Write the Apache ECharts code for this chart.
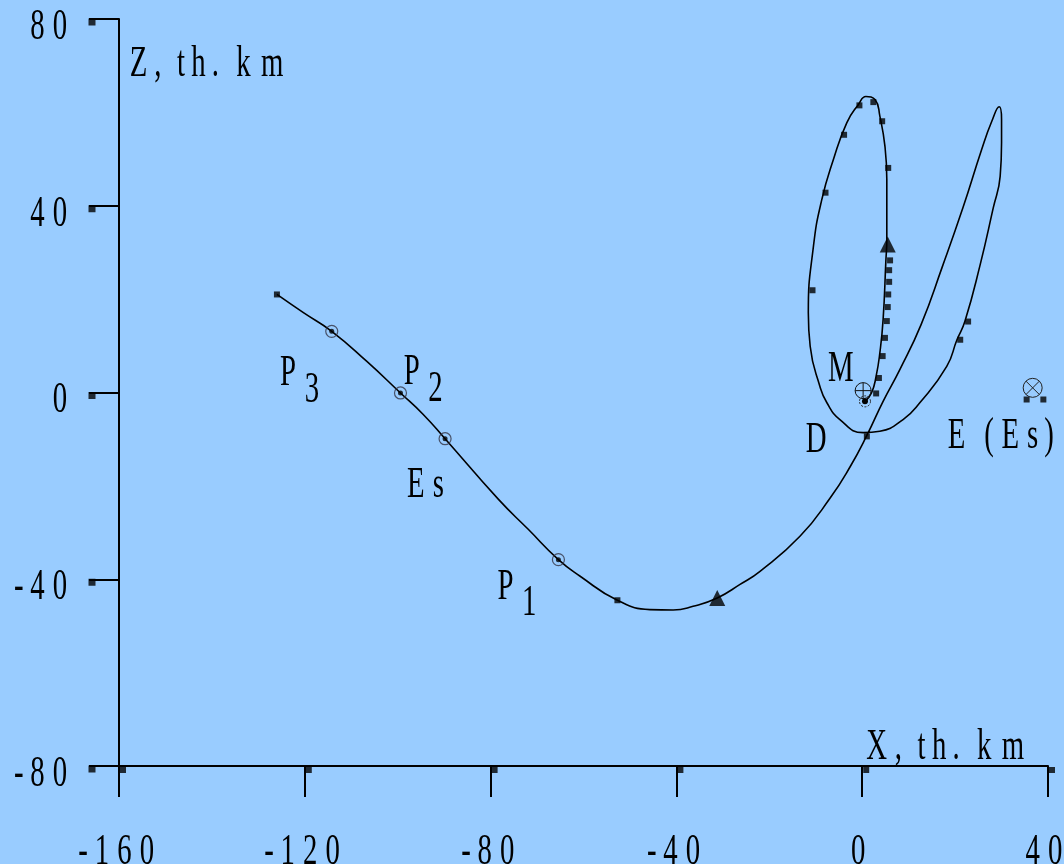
<!DOCTYPE html>
<html>
<head>
<meta charset="utf-8">
<script src="https://cdn.jsdelivr.net/npm/echarts@6/dist/echarts.min.js"></script>
<style>
  html, body { margin: 0; padding: 0; background: #99ccff; }
  #chart { width: 1064px; height: 864px; }
</style>
</head>
<body>
<div id="chart"></div>
<script>
// Axis ticks (thousand km)
const xTicks = [-160, -120, -80, -40, 0, 40];
const zTicks = [-80, -40, 0, 40, 80];

// Spacecraft path in the X–Z plane, from the far-left start to the arrival near M
const trajectory = [
  [-126.0, 21.0], [-120.3, 17.1], [-114.2, 13.1], [-106.7, 6.7], [-99.4, -0.1],
  [-94.5, -4.7], [-89.8, -9.9], [-78.3, -22.9], [-71.9, -29.3], [-65.4, -35.8],
  [-60.8, -39.3], [-52.7, -44.5], [-45.7, -46.5], [-40.7, -46.6], [-36.4, -45.8],
  [-31.2, -44.0], [-26.3, -41.1], [-22.0, -38.3], [-13.4, -30.8], [-6.9, -22.6],
  [-2.6, -15.9], [1.0, -9.2], [4.5, -1.9], [8.1, 4.9], [12.7, 14.6],
  [17.2, 26.8], [21.7, 39.6], [25.7, 52.0], [27.9, 58.1], [29.5, 61.2],
  [30.0, 58.5], [30.0, 53.5], [29.7, 46.3], [28.2, 39.5], [25.4, 27.4],
  [22.1, 15.2], [20.4, 11.3], [18.2, 5.6], [12.4, -2.2], [8.8, -5.8],
  [3.8, -8.3], [0.2, -8.6], [-4.8, -5.8], [-7.6, -2.2], [-9.1, 1.3],
  [-11.2, 9.9], [-11.6, 17.1], [-10.5, 31.3], [-8.7, 41.3], [-6.2, 49.9],
  [-3.3, 57.8], [-0.8, 61.7], [0.8, 63.4], [2.8, 62.7], [3.8, 59.2],
  [4.9, 52.7], [5.3, 45.6], [5.3, 32.8], [5.1, 28.3], [4.5, 15.6],
  [3.8, 8.5], [3.0, 3.5], [2.0, -0.1], [0.6, -1.9]
];

// Time marks along the path
const timeMarks = [
  [-126.0, 21.0], [-52.7, -44.5], [1.0, -9.4],
  [22.8, 15.2], [21.1, 11.3],
  [-10.7, 21.9], [-7.9, 42.8], [-3.9, 55.2], [-0.6, 61.5], [2.4, 62.2],
  [4.3, 58.1], [5.6, 48.1],
  [6.0, 28.3], [5.8, 26.2], [5.8, 23.7], [5.6, 21.0], [5.5, 18.3],
  [5.3, 15.3], [4.9, 11.7], [4.4, 7.8], [3.6, 3.1], [3.0, -0.2]
];

// Circled points P3, P2, Es, P1
const circledPoints = [[-114.2, 13.1], [-99.4, -0.1], [-89.8, -9.9], [-65.4, -35.8]];

// Triangle marks
const triangleMarks = [[-31.2, -44.0], [5.5, 31.7]];

// Moon, arrival point, Earth (Es) and its marks
const moonPos = [[0.2, 0.4]];
const arrivalPos = [[0.6, -1.9]];
const earthPos = [[36.7, 1.0]];
const earthMarks = [[35.4, -1.5], [39.0, -1.5]];

// Text annotations: pieces of text, anchored at the first glyph (data coords)
const notes = [
  { at: [-155.8, 70.4], pieces: [{ t: 'Z, th. km' }] },
  { at: [3.1, -76.0], pieces: [{ t: 'X, th. km' }] },
  { at: [-123.6, 4.1], pieces: [{ t: 'P' }, { t: '3', dy: 17 }] },
  { at: [-97.0, 4.3], pieces: [{ t: 'P' }, { t: '2', dy: 17 }] },
  { at: [-96.1, -19.9], pieces: [{ t: 'Es' }] },
  { at: [-76.8, -41.6], pieces: [{ t: 'P' }, { t: '1', dy: 16 }] },
  { at: [-4.6, 5.1], pieces: [{ t: 'M' }] },
  { at: [-9.9, -10.3], pieces: [{ t: 'D' }] },
  { at: [20.3, -9.4], pieces: [{ t: 'E (Es)' }] }
];

// ---- glyph layout: Times-like metrics, narrow glyphs ----
const FONT_PX = 45;
const FONT_FAMILY = '"Liberation Serif", "Times New Roman", serif';
const GLYPH_SX = 0.64;
const measureCtx = document.createElement('canvas').getContext('2d');
measureCtx.font = FONT_PX + 'px ' + FONT_FAMILY;

function glyphRun(pieces, ax, ay, align) {
  let x = 0;
  const glyphs = [];
  pieces.forEach(p => {
    for (const ch of p.t) {
      const w = measureCtx.measureText(ch).width;
      if (ch !== ' ') glyphs.push({ ch, cx: x + w / 2, dy: p.dy || 0 });
      x += w;
    }
  });
  const first = glyphs[0].cx, last = glyphs[glyphs.length - 1].cx;
  let off;
  if (align === 'right') off = ax - last;
  else if (align === 'center') off = ax - (first + last) / 2;
  else off = ax - first;
  return glyphs.map(g => ({
    type: 'text',
    x: off + g.cx,
    y: ay + g.dy,
    scaleX: GLYPH_SX,
    silent: true,
    style: {
      text: g.ch, fontFamily: FONT_FAMILY, fontSize: FONT_PX, fontWeight: 'normal',
      fill: '#000', align: 'center', verticalAlign: 'middle'
    }
  }));
}

const X_MIN = xTicks[0], X_MAX = xTicks[xTicks.length - 1];
const Z_MIN = zTicks[0], Z_MAX = zTicks[zTicks.length - 1];

const chart = echarts.init(document.getElementById('chart'), null, { renderer: 'canvas' });

chart.setOption({
  animation: false,
  backgroundColor: '#99ccff',
  grid: { left: 119, right: 16, top: 19, bottom: 98 },
  xAxis: {
    type: 'value', min: X_MIN, max: X_MAX, interval: 40,
    axisLine: { show: true, onZero: false, lineStyle: { color: '#000', width: 2 } },
    axisTick: { show: true, inside: false, length: 31, lineStyle: { color: '#000', width: 2 } },
    axisLabel: { show: false },
    splitLine: { show: false }
  },
  yAxis: {
    type: 'value', min: Z_MIN, max: Z_MAX, interval: 40,
    axisLine: { show: true, onZero: false, lineStyle: { color: '#000', width: 2 } },
    axisTick: { show: true, inside: false, length: 30, lineStyle: { color: '#000', width: 2 } },
    axisLabel: { show: false },
    splitLine: { show: false }
  },
  series: [
    {
      name: 'path', type: 'line', data: trajectory, smooth: 0.5,
      showSymbol: false, lineStyle: { color: '#000', width: 1.6 }, z: 3
    },
    {
      name: 'time marks', type: 'scatter', data: timeMarks, symbol: 'rect', symbolSize: 6,
      itemStyle: { color: '#000' }, z: 4
    },
    {
      name: 'circled', type: 'scatter', data: circledPoints, symbol: 'circle', symbolSize: 12,
      itemStyle: { color: 'rgba(0,0,0,0)', borderColor: '#334', borderWidth: 1.2 }, z: 4
    },
    {
      name: 'circled dot', type: 'scatter', data: circledPoints, symbol: 'circle', symbolSize: 5,
      itemStyle: { color: '#000' }, z: 5
    },
    {
      name: 'triangles', type: 'scatter', data: triangleMarks, symbol: 'triangle', symbolSize: 16,
      itemStyle: { color: '#000' }, z: 5
    },
    {
      name: 'earth marks', type: 'scatter', data: earthMarks, symbol: 'rect', symbolSize: 6,
      itemStyle: { color: '#000' }, z: 4
    },
    {
      // small squares at the outer end of the axis ticks
      name: 'z tick ends', type: 'scatter', clip: false, silent: true,
      data: zTicks.map(v => [X_MIN, v]), symbol: 'rect', symbolSize: 7, symbolOffset: [-27, 3],
      itemStyle: { color: '#000' }, z: 6
    },
    {
      name: 'x tick ends', type: 'scatter', clip: false, silent: true,
      data: xTicks.map(v => [v, Z_MIN]), symbol: 'rect', symbolSize: 6, symbolOffset: [4, 4],
      itemStyle: { color: '#000' }, z: 6
    },
    {
      // Moon symbol (circle with cross)
      name: 'M', type: 'custom', data: moonPos, encode: { x: 0, y: 1 }, silent: true, z: 6,
      renderItem: (params, api) => {
        const p = api.coord([api.value(0), api.value(1)]);
        const r = 8;
        const s = { stroke: '#111', lineWidth: 1, fill: null };
        return { type: 'group', children: [
          { type: 'circle', shape: { cx: p[0], cy: p[1], r }, style: s },
          { type: 'line', shape: { x1: p[0] - r, y1: p[1], x2: p[0] + r, y2: p[1] }, style: s },
          { type: 'line', shape: { x1: p[0], y1: p[1] - r, x2: p[0], y2: p[1] + r }, style: s }
        ] };
      }
    },
    {
      name: 'arrival', type: 'custom', data: arrivalPos, encode: { x: 0, y: 1 }, silent: true, z: 6,
      renderItem: (params, api) => {
        const p = api.coord([api.value(0), api.value(1)]);
        return { type: 'group', children: [
          { type: 'circle', shape: { cx: p[0], cy: p[1], r: 5.5 }, style: { fill: null, stroke: '#222', lineWidth: 1, lineDash: [2, 1.5] } },
          { type: 'circle', shape: { cx: p[0], cy: p[1], r: 3 }, style: { fill: '#000' } }
        ] };
      }
    },
    {
      // Earth symbol (circle with diagonal cross)
      name: 'E', type: 'custom', data: earthPos, encode: { x: 0, y: 1 }, silent: true, z: 6,
      renderItem: (params, api) => {
        const p = api.coord([api.value(0), api.value(1)]);
        const r = 9.5, d = r * 0.7071;
        const s = { stroke: '#222', lineWidth: 1, fill: null };
        return { type: 'group', children: [
          { type: 'circle', shape: { cx: p[0], cy: p[1], r }, style: s },
          { type: 'line', shape: { x1: p[0] - d, y1: p[1] - d, x2: p[0] + d, y2: p[1] + d }, style: s },
          { type: 'line', shape: { x1: p[0] - d, y1: p[1] + d, x2: p[0] + d, y2: p[1] - d }, style: s }
        ] };
      }
    },
    {
      name: 'z tick labels', type: 'custom', data: zTicks.map(v => [X_MIN, v]), encode: { x: 0, y: 1 },
      silent: true, z: 7,
      renderItem: (params, api) => {
        const p = api.coord([api.value(0), api.value(1)]);
        return { type: 'group', children: glyphRun([{ t: String(zTicks[params.dataIndex]) }], p[0] - 59, p[1] + 8, 'right') };
      }
    },
    {
      name: 'x tick labels', type: 'custom', data: xTicks.map(v => [v, Z_MIN]), encode: { x: 0, y: 1 },
      silent: true, z: 7,
      renderItem: (params, api) => {
        const p = api.coord([api.value(0), api.value(1)]);
        return { type: 'group', children: glyphRun([{ t: String(xTicks[params.dataIndex]) }], p[0] - 4, p[1] + 86, 'center') };
      }
    },
    {
      name: 'notes', type: 'custom', data: notes.map(n => n.at), encode: { x: 0, y: 1 },
      silent: true, z: 7,
      renderItem: (params, api) => {
        const p = api.coord([api.value(0), api.value(1)]);
        return { type: 'group', children: glyphRun(notes[params.dataIndex].pieces, p[0], p[1], 'left') };
      }
    }
  ]
});
</script>
</body>
</html>
